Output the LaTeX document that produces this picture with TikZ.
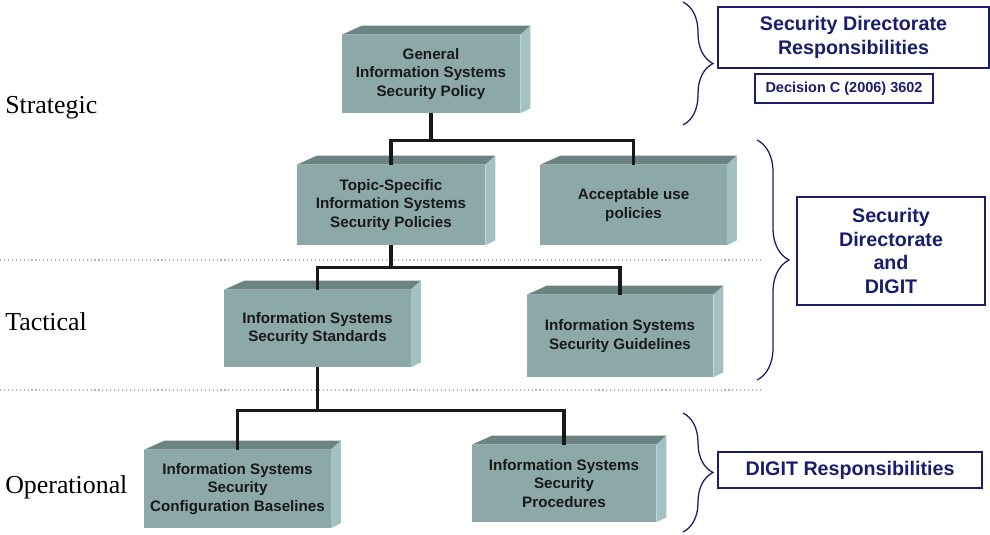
\documentclass[tikz,border=0pt]{standalone}
\usepackage{fontspec}
\setmainfont{Liberation Serif}
\setsansfont{Liberation Sans}
\usetikzlibrary{calc, decorations.pathreplacing}
\definecolor{cfront}{HTML}{8CA8A9}
\definecolor{ctop}{HTML}{6C8384}
\definecolor{cside}{HTML}{A3C0C2}
\definecolor{cnavy}{HTML}{1C1C6C}
\definecolor{cdots}{HTML}{B4B4B4}
\tikzset{
  slab/.style={fill=cfront, align=center, inner sep=0pt, minimum width=4.65cm, minimum height=1.95cm,
    font=\sffamily\bfseries\fontsize{10.8}{13.2}\selectfont, text=black!90},
  link/.style={line width=2.2pt, draw=black!90},
  resp/.style={draw=cnavy, line width=0.9pt, align=center, text=cnavy, inner sep=0pt,
    font=\sffamily\bfseries\fontsize{14}{17}\selectfont},
  level/.style={anchor=base west, inner sep=0pt, font=\fontsize{18.4}{20}\selectfont},
  curly/.style={draw=cnavy, line width=0.9pt, decorate, decoration={brace, amplitude=#1}},
  sep/.style={draw=cdots, dotted, line width=0.8pt},
}

\begin{document}
\begin{tikzpicture}[x=0.025cm, y=-0.025cm]
  \useasboundingbox (0,0) rectangle (990,534);
  % level separators
  \draw[sep] (0,260) -- (760,260);
  \draw[sep] (0,390) -- (760,390);
  % levels
  \node[level] (strat) at (5,113) {Strategic};
  \node[level] (tact) at (5,330) {Tactical};
  \node[level] (oper) at (5,493) {Operational};
  % policy blocks
  \node[slab, minimum width=4.45cm] (gen) at (431,74) {General\\Information Systems\\Security Policy};
  \node[slab, minimum width=4.7cm, minimum height=2cm] (topic) at (391,205) {Topic-Specific\\Information Systems\\Security Policies};
  \node[slab, minimum height=2cm] (accept) at (633.5,205) {Acceptable use\\policies};
  \node[slab, minimum height=1.925cm] (stand) at (317.5,328.5) {Information Systems\\Security Standards};
  \node[slab, minimum height=2.05cm] (guide) at (620,336) {Information Systems\\Security Guidelines};
  \node[slab] (base) at (237.5,489) {Information Systems\\Security\\Configuration Baselines};
  \node[slab, minimum width=4.6cm, minimum height=1.925cm] (proc) at (564,483.5) {Information Systems\\Security\\Procedures};
  % top and side faces
  \foreach \blk in {gen,topic,accept,stand,guide,base,proc} {
    \fill[ctop] (\blk.north west) -- ++(20,-9) -- ([shift={(10,-9)}]\blk.north east) -- (\blk.north east) -- cycle;
    \fill[cside] (\blk.north east) -- ([shift={(10,-9)}]\blk.north east) -- ([shift={(10,-5)}]\blk.south east) -- (\blk.south east) -- cycle;
  }
  % tree
  \draw[link] (gen.south) -- ++(0,27) coordinate (bus1);
  \draw[link] (topic.north) |- (bus1) -| (accept.north);
  \draw[link] (topic.south) -- ++(0,22) coordinate (bus2);
  \draw[link] (stand.north) |- (bus2) -| (guide.north);
  \draw[link] (stand.south) -- ++(0,43) coordinate (bus3);
  \draw[link] (base.north) |- (bus3) -| (proc.north);
  % responsibilities
  \node[resp, minimum width=6.775cm, minimum height=1.525cm] (sdr) at (853.5,37.5) {Security Directorate\\Responsibilities};
  \node[resp, font=\sffamily\bfseries\fontsize{10.3}{12}\selectfont, minimum width=4.45cm, minimum height=0.725cm] (dec) at (844,88.5) {Decision C (2006) 3602};
  \node[resp, minimum width=4.7cm, minimum height=2.7cm] (sdd) at (891,251) {Security\\Directorate\\and\\DIGIT};
  \node[resp, minimum width=6.6cm, minimum height=0.9cm] (dr) at (850,470) {DIGIT Responsibilities};
  \draw[curly=0.75cm] (683,2) -- (683,125);
  \draw[curly=0.8cm] (757,140) -- (757,380);
  \draw[curly=0.75cm] (683,413) -- (683,532);
\end{tikzpicture}
\end{document}
